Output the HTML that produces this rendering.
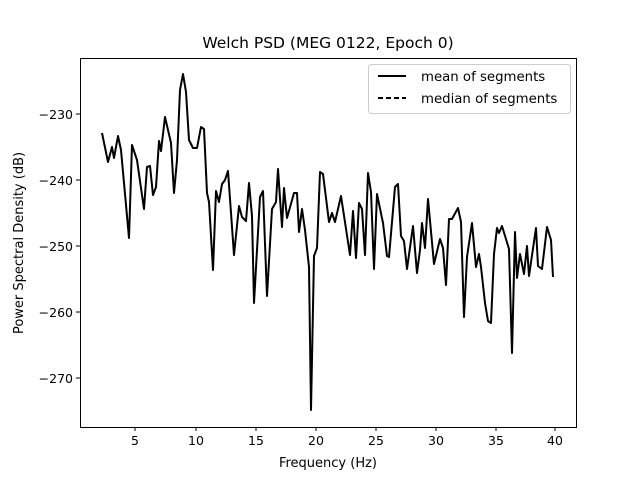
<!DOCTYPE html><html><head><style>body{margin:0;background:#fff}</style></head><body>
<svg width="640" height="480" xmlns="http://www.w3.org/2000/svg" font-family="DejaVu Sans, Liberation Sans, sans-serif" font-size="13">
<rect width="640" height="480" fill="#fff"/>
<text x="328" y="48" text-anchor="middle" font-size="15.5">Welch PSD (MEG 0122, Epoch 0)</text>
<polyline fill="none" stroke="#000" stroke-width="2" stroke-linejoin="round" points="102,133 108,162 112,147 114,158 118,136 121,150 129,238 132,145 137,160 144,209 147,167 150,166 153,195 156,187 159,141 161,151 165,117 171,143 174,193 177,160 180,90 183,74 186,92 189,140 193,148 197,148 201,127 204,129 207,193 209,202 213,270 216,191 219,202 222,184 225,180 228,171 234,255 239,206 242,217 246,221 249,183 252,216 254,303 260,197 263,191 267,296 272,209 276,202 278,169 282,227 284,188 287,218 294,193 297,193 299,232 302,209 305,230 309,267 311,410 314,256 317,248 320,172 323,174 329,222 332,213 335,222 341,196 350,255 353,211 356,258 359,203 362,209 365,255 368,173 371,192 374,269 377,194 383,223 387,256 389,257 395,187 398,184 401,236 404,241 407,269 413,226 417,273 420,250 422,223 425,248 428,199 434,264 440,239 443,248 446,285 449,219 452,219 458,208 461,222 464,317 467,257 472,223 476,267 479,254 481,267 485,303 488,321 491,323 494,254 497,228 499,233 502,226 509,249 512,353 515,232 517,278 520,254 524,274 527,246 529,276 536,228 538,266 542,269 547,227 551,240 553,277"/>
<rect x="80.5" y="58.5" width="496" height="369" fill="none" stroke="#000" stroke-width="1"/>
<g stroke="#000">
<line x1="135" y1="427" x2="135" y2="431"/><line x1="196" y1="427" x2="196" y2="431"/><line x1="256" y1="427" x2="256" y2="431"/><line x1="316" y1="427" x2="316" y2="431"/><line x1="376" y1="427" x2="376" y2="431"/><line x1="436" y1="427" x2="436" y2="431"/><line x1="496" y1="427" x2="496" y2="431"/><line x1="555" y1="427" x2="555" y2="431"/>
<line x1="76" y1="114" x2="80" y2="114"/><line x1="76" y1="180" x2="80" y2="180"/><line x1="76" y1="246" x2="80" y2="246"/><line x1="76" y1="312" x2="80" y2="312"/><line x1="76" y1="378" x2="80" y2="378"/>
</g>
<g text-anchor="middle" font-size="12.5">
<text x="135" y="445">5</text><text x="196" y="445">10</text><text x="256" y="445">15</text><text x="316" y="445">20</text><text x="376" y="445">25</text><text x="436" y="445">30</text><text x="496" y="445">35</text><text x="555" y="445">40</text>
</g>
<g text-anchor="end" font-size="12.5">
<text x="73" y="119">−230</text><text x="73" y="185">−240</text><text x="73" y="251">−250</text><text x="73" y="317">−260</text><text x="73" y="383">−270</text>
</g>
<text x="328" y="467" text-anchor="middle" font-size="13">Frequency (Hz)</text>
<text transform="translate(23,243) rotate(-90)" text-anchor="middle" font-size="13">Power Spectral Density (dB)</text>
<rect x="368.5" y="64.5" width="202" height="49" rx="3" fill="#fff" stroke="#ccc"/>
<line x1="378" y1="76" x2="406" y2="76" stroke="#000" stroke-width="2"/>
<line x1="378" y1="98" x2="406" y2="98" stroke="#000" stroke-width="2" stroke-dasharray="5,3"/>
<text x="421" y="81" font-size="13.3">mean of segments</text>
<text x="421" y="103" font-size="13.3">median of segments</text>
</svg></body></html>
